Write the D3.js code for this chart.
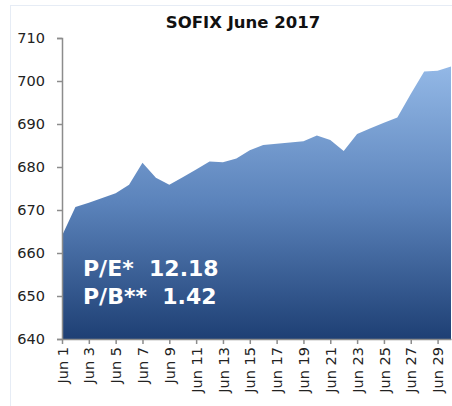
<!DOCTYPE html>
<html><head><meta charset="utf-8">
<script src="https://cdn.jsdelivr.net/npm/d3@7"></script>
<style>
html,body{margin:0;padding:0;background:#fff;}
svg{display:block;}
</style></head>
<body>
<svg id="chart" width="452" height="406"></svg>
<script>
const days = d3.range(1, 31);
const values = [664.0, 670.7, 671.7, 672.8, 673.9, 675.9, 681.0, 677.5, 675.9, 677.6,
  679.4, 681.3, 681.1, 682.0, 683.9, 685.1, 685.4, 685.7, 686.0, 687.3,
  686.3, 683.7, 687.7, 689.0, 690.3, 691.5, 697.0, 702.2, 702.4, 703.4];
const yTicks = [640, 650, 660, 670, 680, 690, 700, 710];
const xTickDays = [1, 3, 5, 7, 9, 11, 13, 15, 17, 19, 21, 23, 25, 27, 29];
const title = "SOFIX June 2017";
const notes = ["P/E*  12.18", "P/B**  1.42"];

const svg = d3.select("#chart");
const mLeft = 62, mRight = 451, mTop = 38, mBottom = 339;

// outer frame
svg.append("rect").attr("x", 10.5).attr("y", 5.5).attr("width", 460).attr("height", 420)
  .attr("fill", "none").attr("stroke", "#e6ecf5").attr("stroke-width", 1);

const x = d3.scaleLinear().domain([1, 30]).range([mLeft, mRight]);
const y = d3.scaleLinear().domain([640, 710]).range([mBottom, mTop]);

const defs = svg.append("defs");
const grad = defs.append("linearGradient").attr("id", "g").attr("gradientUnits", "userSpaceOnUse")
  .attr("x1", 0).attr("y1", y(d3.max(values))).attr("x2", 0).attr("y2", mBottom);
grad.append("stop").attr("offset", "0%").attr("stop-color", "#93b8e6");
grad.append("stop").attr("offset", "50%").attr("stop-color", "#5b83bb");
grad.append("stop").attr("offset", "100%").attr("stop-color", "#1e3f74");

const data = days.map((d, i) => ({ d, v: values[i] }));
const area = d3.area().x(p => x(p.d)).y0(y(640)).y1(p => y(p.v));
svg.append("path").datum(data).attr("d", area).attr("fill", "url(#g)");

// y axis
const yAxis = svg.append("g").attr("transform", `translate(${mLeft},0)`)
  .call(d3.axisLeft(y).tickValues(yTicks).tickSize(5).tickPadding(12).tickFormat(d3.format("d")));
yAxis.select(".domain").attr("stroke", "#8c8c8c").attr("stroke-width", 1.5);
yAxis.selectAll(".tick line").attr("stroke", "#8c8c8c").attr("stroke-width", 1.5);
yAxis.selectAll("text").attr("font-family", "DejaVu Sans, Verdana, sans-serif")
  .attr("font-size", 14.5).attr("fill", "#222");

// x axis
const xAxis = svg.append("g").attr("transform", `translate(0,${mBottom})`)
  .call(d3.axisBottom(x).tickValues(xTickDays).tickSize(5).tickSizeOuter(0).tickFormat(d => "Jun " + d));
xAxis.select(".domain").attr("stroke", "#8c8c8c").attr("stroke-width", 1.5);
xAxis.selectAll(".tick line").attr("stroke", "#8c8c8c").attr("stroke-width", 1.5);
xAxis.selectAll("text")
  .attr("font-family", "DejaVu Sans, Verdana, sans-serif").attr("font-size", 14.5).attr("fill", "#222")
  .attr("transform", "rotate(-90)").attr("text-anchor", "end")
  .attr("x", -8).attr("y", 0).attr("dy", "0.35em");

// title
svg.append("text").attr("x", 243).attr("y", 28).attr("text-anchor", "middle")
  .attr("font-family", "DejaVu Sans, Verdana, sans-serif").attr("font-weight", "bold")
  .attr("font-size", 16.5).attr("fill", "#111").text(title);

// notes
svg.selectAll("text.note").data(notes).join("text").attr("class", "note")
  .attr("x", 83).attr("y", (d, i) => 276 + i * 28)
  .attr("font-family", "DejaVu Sans, Verdana, sans-serif").attr("font-weight", "bold")
  .attr("font-size", 22).attr("fill", "#fff")
  .style("white-space", "pre").text(d => d);
</script>
</body></html>
